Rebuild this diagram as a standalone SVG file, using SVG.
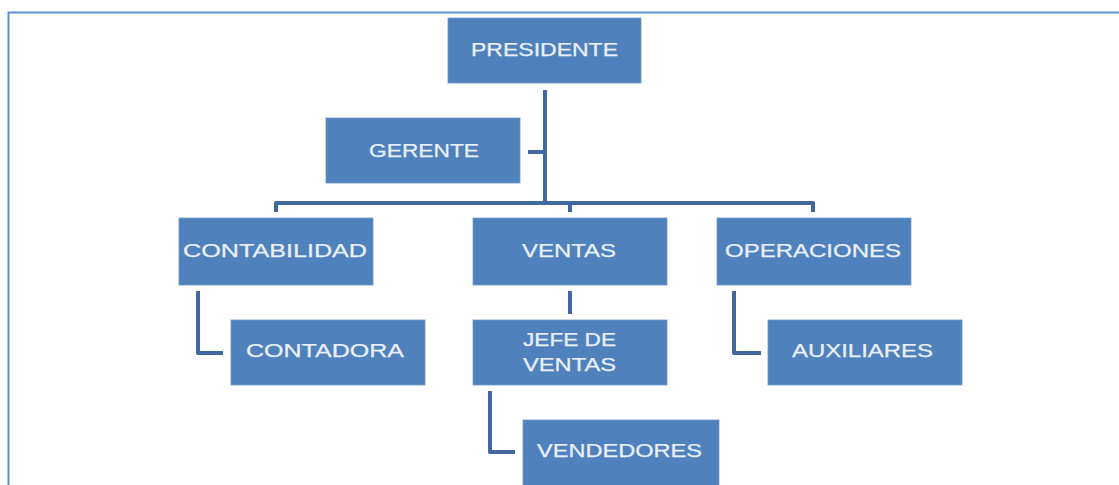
<svg xmlns="http://www.w3.org/2000/svg" width="1119" height="485" viewBox="0 0 1119 485">
<style>
.box{fill:#4f81bd;stroke:#6f98cc;stroke-width:0.8}
.lbl{font-family:"Liberation Sans",Arial,sans-serif;font-size:18px;fill:#eaf0f7;stroke:#eaf0f7;stroke-width:0.25;text-anchor:start}
.con{fill:none;stroke:#41699f;stroke-width:4;stroke-linejoin:round}
.frame{fill:none;stroke:#5f8fcf;stroke-width:2}
</style>
<rect width="1119" height="485" fill="#ffffff"/>
<path class="frame" d="M8.5,485 V12.5 H1119"/>
<g id="connectors">
<path class="con" d="M545,90 V201"/>
<path class="con" d="M528,152 H545"/>
<path class="con" d="M276,212 V203 H813 V212"/>
<path class="con" d="M570,203 V212"/>
<path class="con" d="M570,291 V314"/>
<path class="con" d="M198,291 V353 H223"/>
<path class="con" d="M490,391 V452 H515"/>
<path class="con" d="M734,291 V353 H761"/>
</g>
<g id="presidente"><rect class="box" x="448" y="18" width="193" height="65"/><text class="lbl" x="471" y="56" textLength="147" lengthAdjust="spacingAndGlyphs">PRESIDENTE</text></g>
<g id="gerente"><rect class="box" x="326" y="118" width="194" height="65"/><text class="lbl" x="369" y="157" textLength="110" lengthAdjust="spacingAndGlyphs">GERENTE</text></g>
<g id="contabilidad"><rect class="box" x="179" y="218" width="194" height="67"/><text class="lbl" x="183" y="257" textLength="184" lengthAdjust="spacingAndGlyphs">CONTABILIDAD</text></g>
<g id="ventas"><rect class="box" x="473" y="218" width="194" height="67"/><text class="lbl" x="522" y="257" textLength="94" lengthAdjust="spacingAndGlyphs">VENTAS</text></g>
<g id="operaciones"><rect class="box" x="717" y="218" width="194" height="67"/><text class="lbl" x="725" y="257" textLength="176" lengthAdjust="spacingAndGlyphs">OPERACIONES</text></g>
<g id="contadora"><rect class="box" x="231" y="320" width="194" height="65"/><text class="lbl" x="246" y="357" textLength="158" lengthAdjust="spacingAndGlyphs">CONTADORA</text></g>
<g id="jefe-de-ventas"><rect class="box" x="473" y="320" width="194" height="65"/><text class="lbl" x="523" y="346" textLength="93" lengthAdjust="spacingAndGlyphs">JEFE DE</text><text class="lbl" x="523" y="371" textLength="93" lengthAdjust="spacingAndGlyphs">VENTAS</text></g>
<g id="auxiliares"><rect class="box" x="768" y="320" width="194" height="65"/><text class="lbl" x="792" y="357" textLength="141" lengthAdjust="spacingAndGlyphs">AUXILIARES</text></g>
<g id="vendedores"><rect class="box" x="523" y="420" width="196" height="67"/><text class="lbl" x="537" y="457" textLength="165" lengthAdjust="spacingAndGlyphs">VENDEDORES</text></g>
</svg>
